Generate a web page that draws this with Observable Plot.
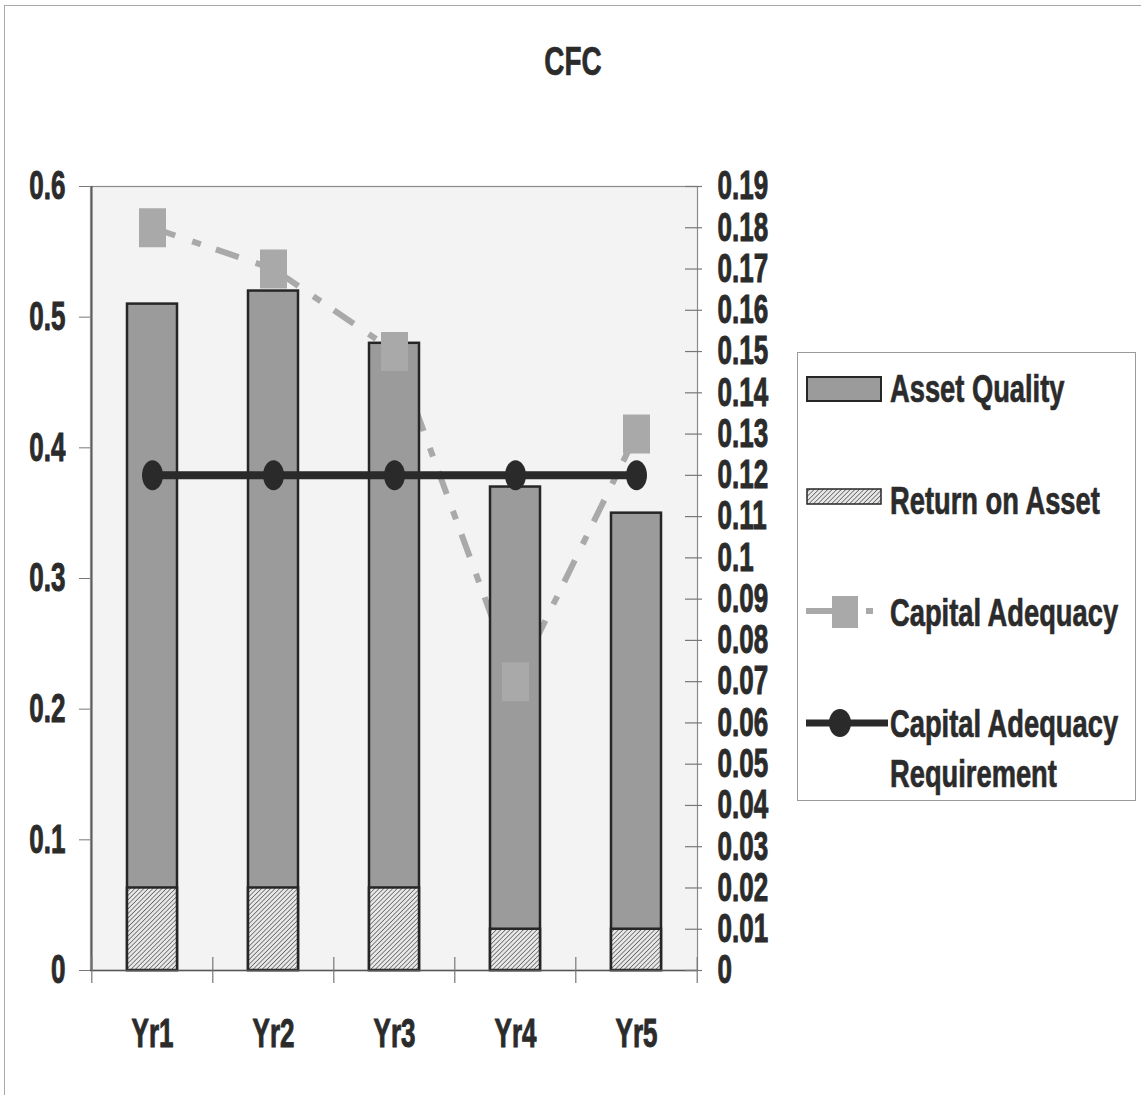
<!DOCTYPE html>
<html>
<head>
<meta charset="utf-8">
<script src="https://cdn.jsdelivr.net/npm/d3@7"></script>
<script src="https://cdn.jsdelivr.net/npm/@observablehq/plot@0.6"></script>
<style>
  html, body { margin: 0; padding: 0; background: #fff; }
  #page { position: relative; width: 1141px; height: 1095px; overflow: hidden;
          font-family: "Liberation Sans", Arial, sans-serif;
          font-weight: bold; color: #2b2b2b; }
  #frame { position: absolute; left: 4px; top: 5px; width: 1160px; height: 1200px;
           border-left: 1.5px solid #a8a8a8; border-top: 1.5px solid #a8a8a8; }
  #chart { position: absolute; left: 0; top: 0; }
  .t { position: absolute; white-space: nowrap; font-size: 39px; line-height: 39px;
       -webkit-text-stroke: 0.7px #2b2b2b;
       transform: scaleX(0.7); transform-origin: left center; }
  #title { position: absolute; left: 473px; top: 41px; width: 200px; text-align: center;
           font-size: 41px; line-height: 41px; -webkit-text-stroke: 0.7px #2b2b2b;
           transform: scaleX(0.68); transform-origin: center center; }
  #legend { position: absolute; left: 797px; top: 352px; width: 337px; height: 447px;
            border: 1.5px solid #9a9a9a; background: #fff; }
  .sw { position: absolute; }
</style>
</head>
<body>
<svg width="0" height="0" style="position:absolute">
  <defs>
    <pattern id="hatch" patternUnits="userSpaceOnUse" width="3.2" height="3.2" patternTransform="rotate(45)">
      <rect width="3.2" height="3.2" fill="#e8e8e8"></rect>
      <line x1="0" y1="0" x2="0" y2="3.2" stroke="#3a3a3a" stroke-width="1.2"></line>
    </pattern>
  </defs>
</svg>
<div id="page">
  <div id="frame"></div>
  <div id="chart"></div>
  <div id="title">CFC</div>
  <div id="legend"></div>
  <svg class="sw" style="left:806px;top:376px" width="76" height="26">
    <rect x="1" y="1" width="74" height="24" fill="#9b9b9b" stroke="#262626" stroke-width="2"></rect>
  </svg>
  <div class="t" style="left:890px;top:369px">Asset Quality</div>
  <svg class="sw" style="left:806px;top:488px" width="76" height="17">
    <rect x="1" y="1" width="74" height="15" fill="url(#hatch)" stroke="#262626" stroke-width="1.5"></rect>
  </svg>
  <div class="t" style="left:890px;top:481px">Return on Asset</div>
  <svg class="sw" style="left:806px;top:596px" width="75" height="33">
    <line x1="0" y1="15" x2="28" y2="15" stroke="#a9a9a9" stroke-width="6"></line>
    <rect x="26" y="0" width="26" height="32" fill="#a9a9a9"></rect>
    <line x1="60" y1="15" x2="67" y2="15" stroke="#a9a9a9" stroke-width="6"></line>
  </svg>
  <div class="t" style="left:890px;top:593px">Capital Adequacy</div>
  <svg class="sw" style="left:806px;top:707px" width="84" height="32">
    <line x1="0" y1="16" x2="82" y2="16" stroke="#2a2a2a" stroke-width="7"></line>
    <ellipse cx="34" cy="16" rx="11" ry="14" fill="#2a2a2a"></ellipse>
  </svg>
  <div class="t" style="left:890px;top:704px">Capital Adequacy</div>
  <div class="t" style="left:890px;top:754px">Requirement</div>
</div>
<script>
// ---- data ----
const years = ["Yr1", "Yr2", "Yr3", "Yr4", "Yr5"];
const assetQuality = [0.51, 0.52, 0.48, 0.37, 0.35];          // left axis
const returnOnAsset = [0.02, 0.02, 0.02, 0.01, 0.01];         // right axis
const capitalAdequacy = [0.18, 0.17, 0.15, 0.07, 0.13];       // right axis
const capitalAdequacyRequirement = [0.12, 0.12, 0.12, 0.12, 0.12]; // right axis
const leftTicks = [0, 0.1, 0.2, 0.3, 0.4, 0.5, 0.6];
const leftTickLabels = ["0", "0.1", "0.2", "0.3", "0.4", "0.5", "0.6"];
const rightTicks = [0, 0.01, 0.02, 0.03, 0.04, 0.05, 0.06, 0.07, 0.08, 0.09, 0.1,
                    0.11, 0.12, 0.13, 0.14, 0.15, 0.16, 0.17, 0.18, 0.19];
const rightTickLabels = ["0", "0.01", "0.02", "0.03", "0.04", "0.05", "0.06", "0.07", "0.08", "0.09", "0.1",
                         "0.11", "0.12", "0.13", "0.14", "0.15", "0.16", "0.17", "0.18", "0.19"];

// secondary axis mapping (right 0..0.19 onto left 0..0.6)
const r2l = d3.scaleLinear([0, 0.19], [0, 0.6]);

const rows = years.map((y, i) => ({
  year: y,
  aq: assetQuality[i],
  roa: returnOnAsset[i],
  ca: capitalAdequacy[i],
  car: capitalAdequacyRequirement[i]
}));

const W = 1141, H = 1095, ML = 90, MR = 444, MT = 186, MB = 125;
const step = (W - ML - MR) / years.length;

const rectSymbol = { draw(ctx) { ctx.rect(-13.5, -19.5, 27, 39); } };
const ellipseSymbol = { draw(ctx) {
  const rx = 10.5, ry = 15, k = 0.5523;
  ctx.moveTo(rx, 0);
  ctx.bezierCurveTo(rx, ry * k, rx * k, ry, 0, ry);
  ctx.bezierCurveTo(-rx * k, ry, -rx, ry * k, -rx, 0);
  ctx.bezierCurveTo(-rx, -ry * k, -rx * k, -ry, 0, -ry);
  ctx.bezierCurveTo(rx * k, -ry, rx, -ry * k, rx, 0);
  ctx.closePath();
} };

const leftLabel = new Map(leftTicks.map((t, i) => [t, leftTickLabels[i]]));
const rightMapped = rightTicks.map(t => r2l(t));
const rightLabel = new Map(rightMapped.map((t, i) => [t, rightTickLabels[i]]));

const chart = Plot.plot({
  width: W, height: H,
  marginLeft: ML, marginRight: MR, marginTop: MT, marginBottom: MB,
  style: { fontFamily: '"Liberation Sans", Arial, sans-serif',
           fontWeight: "bold", fontSize: "40px", color: "#2b2b2b", background: "transparent", overflow: "visible" },
  x: { type: "band", domain: years, paddingInner: 0.59, paddingOuter: 0.295, axis: null },
  y: { domain: [0, 0.6], axis: null },
  marks: [
    Plot.frame({ fill: "#f3f3f3", stroke: "#8a8a8a", strokeWidth: 1.2 }),
    // capital adequacy line (behind bars)
    Plot.line(rows, { x: "year", y: d => r2l(d.ca), stroke: "#a9a9a9", strokeWidth: 6,
                      strokeDasharray: "24,18,9,16", strokeLinecap: "butt" }),
    Plot.barY(rows, { x: "year", y: "aq", fill: "#9b9b9b", stroke: "#262626", strokeWidth: 2.5 }),
    Plot.barY(rows, { x: "year", y: d => r2l(d.roa), fill: "url(#hatch)", stroke: "#262626", strokeWidth: 2.5 }),
    Plot.dot(rows, { x: "year", y: d => r2l(d.ca), symbol: rectSymbol, fill: "#a9a9a9", stroke: null }),
    Plot.line(rows, { x: "year", y: d => r2l(d.car), stroke: "#2a2a2a", strokeWidth: 8 }),
    Plot.dot(rows, { x: "year", y: d => r2l(d.car), symbol: ellipseSymbol, fill: "#2a2a2a", stroke: null }),
    // axis lines
    Plot.ruleY([0], { stroke: "#555", strokeWidth: 1.5 }),
    Plot.ruleX([years[0]], { dx: -step / 2, stroke: "#555", strokeWidth: 1.5 }),
    // x tick marks between categories (crossing the axis)
    Plot.ruleX(years, { x: d => d, dx: -step / 2, y1: 0, y2: 0, insetTop: -13, insetBottom: -13, stroke: "#777", strokeWidth: 1.2 }),
    Plot.ruleX([years[years.length - 1]], { x: d => d, dx: step / 2, y1: 0, y2: 0, insetTop: -13, insetBottom: -13, stroke: "#777", strokeWidth: 1.2 }),
    // right tick marks crossing right axis
    Plot.ruleY(rightMapped, { y: d => d, insetLeft: (W - ML - MR) - 12, insetRight: -5, stroke: "#777", strokeWidth: 1.2 }),
    // axes
    Plot.axisY(leftTicks, { anchor: "left", tickSize: 11, tickPadding: 14, stroke: "#777",
                            tickFormat: d => leftLabel.get(d), label: null }),
    Plot.axisY(rightMapped, { anchor: "right", tickSize: 0, tickPadding: 20,
                              tickFormat: d => rightLabel.get(d), label: null }),
    Plot.axisX({ anchor: "bottom", tickSize: 0, tickPadding: 48, label: null })
  ]
});

document.getElementById("chart").appendChild(chart);

// horizontally condense SVG texts to match the narrow, heavy lettering
chart.querySelectorAll("text").forEach(t => {
  let tr = t.getAttribute("transform") || "";
  const x = t.getAttribute("x");
  if (x != null && !isNaN(+x)) { tr += ` translate(${x},0)`; t.removeAttribute("x"); }
  t.setAttribute("transform", tr + " scale(0.65,1)");
  t.setAttribute("fill", "#2b2b2b");
  t.setAttribute("stroke", "#2b2b2b");
  t.setAttribute("stroke-width", "1");
});
</script>
</body>
</html>
